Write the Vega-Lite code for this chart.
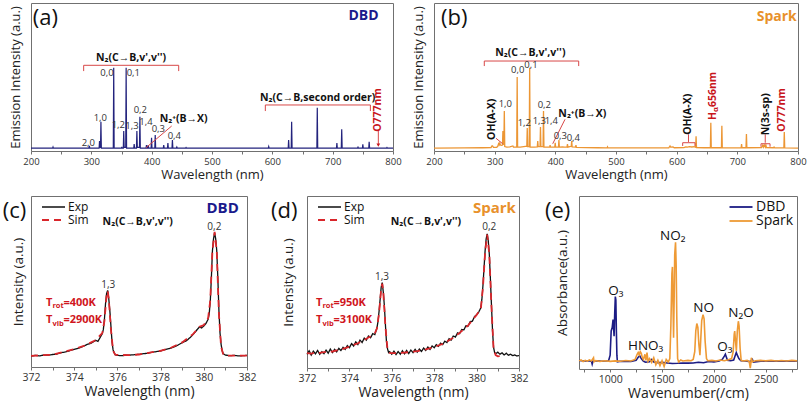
{
"$schema": "https://vega.github.io/schema/vega-lite/v6.json",
"background": "white",
"padding": {"left": 2, "top": 2, "right": 5, "bottom": 0},
"config": {
 "font": "Open Sans",
 "view": {"stroke": "#707070", "strokeWidth": 1},
 "axis": {"grid": false, "domain": false, "labelColor": "#333333", "titleColor": "#222222", "titleFontWeight": "normal", "tickColor": "#707070", "tickSize": 3, "labelFlush": false, "labelOverlap": false},
 "text": {"font": "Open Sans"}
},
"bounds": "flush",
"spacing": 193,
"resolve": {"scale": {"color": "independent", "strokeDash": "independent", "strokeWidth": "independent"}, "legend": {"color": "independent", "strokeDash": "independent"}},
"vconcat": [
{
"bounds": "flush",
"spacing": 41,
"hconcat": [
{
 "width": 362, "height": 148,
 "encoding": {
  "x": {"field": "w", "type": "quantitative", "scale": {"domain": [200, 800], "nice": false, "zero": false},
        "axis": {"title": "Wavelength (nm)", "values": [200,250,300,350,400,450,500,550,600,650,700,750,800], "labelExpr": "datum.value % 100 === 0 ? datum.label : ''", "labelFontSize": 9.5, "titleFontSize": 13, "labelPadding": 2, "titlePadding": 3}},
  "y": {"field": "i", "type": "quantitative", "scale": {"domain": [0, 100], "nice": false, "zero": false},
        "axis": {"title": "Emission Intensity (a.u.)", "labels": false, "ticks": false, "titleFontSize": 13, "titlePadding": 9}}
 },
 "layer": [
  {"data": {"values": [
   {"w":200,"i":2},{"w":236,"i":2},{"w":236.5,"i":2.6},{"w":237,"i":2},
   {"w":296,"i":2},{"w":296.7,"i":3.4},{"w":297.4,"i":2},
   {"w":312.9,"i":2},{"w":313.6,"i":6.8},{"w":314.3,"i":2.5},{"w":315.2,"i":2.5},{"w":315.9,"i":19.8},{"w":316.6,"i":2},
   {"w":336.4,"i":2},{"w":337.1,"i":56.3},{"w":337.8,"i":2},
   {"w":350,"i":2},{"w":350.5,"i":2.8},{"w":351,"i":2},
   {"w":353,"i":2},{"w":353.7,"i":13.5},{"w":354.4,"i":2.5},
   {"w":357,"i":2.5},{"w":357.7,"i":56.3},{"w":358.4,"i":2},
   {"w":370.3,"i":2},{"w":371,"i":4.7},{"w":371.7,"i":2},
   {"w":374.8,"i":2},{"w":375.5,"i":13.5},{"w":376.2,"i":2.5},
   {"w":379.8,"i":2.5},{"w":380.5,"i":23.2},{"w":381.2,"i":2},
   {"w":390.7,"i":2},{"w":391.4,"i":4},{"w":392.1,"i":2},
   {"w":393.6,"i":2},{"w":394.3,"i":4},{"w":395,"i":2},
   {"w":399.1,"i":2},{"w":399.8,"i":9},{"w":400.5,"i":2},
   {"w":405.2,"i":2},{"w":405.9,"i":10.8},{"w":406.6,"i":2},
   {"w":419.3,"i":2},{"w":420,"i":4},{"w":420.7,"i":2},
   {"w":426.2,"i":2},{"w":426.9,"i":5.4},{"w":427.6,"i":2},
   {"w":433.7,"i":2},{"w":434.4,"i":7.4},{"w":435.1,"i":2},
   {"w":441,"i":2},{"w":441.7,"i":2.7},{"w":442.4,"i":2},
   {"w":456.3,"i":2},{"w":457,"i":2.4},{"w":457.7,"i":2},
   {"w":593.3,"i":2},{"w":594,"i":3},{"w":594.7,"i":2},
   {"w":626.3,"i":2},{"w":627,"i":7.4},{"w":627.7,"i":2},
   {"w":631.3,"i":2},{"w":632,"i":19.8},{"w":632.7,"i":2},
   {"w":673.8,"i":2},{"w":674.5,"i":29.3},{"w":675.2,"i":2},
   {"w":706.3,"i":2},{"w":707,"i":5.4},{"w":707.7,"i":2},
   {"w":714.3,"i":2},{"w":715,"i":14.7},{"w":715.7,"i":2},
   {"w":741.3,"i":2},{"w":742,"i":2.6},{"w":742.7,"i":2},
   {"w":749.3,"i":2},{"w":750,"i":4.5},{"w":750.7,"i":2},
   {"w":759.8,"i":2},{"w":760.5,"i":6.3},{"w":761.2,"i":2},
   {"w":789.3,"i":2},{"w":790,"i":2.4},{"w":790.7,"i":2},
   {"w":800,"i":2}]},
   "mark": {"type": "line", "color": "#23237d", "strokeWidth": 1.2}},
  {"data": {"values": [
   {"w":287.3,"i":57.9,"w2":444.8,"i2":57.9},{"w":287.3,"i":57.9,"w2":287.3,"i2":54},{"w":444.8,"i":57.9,"w2":444.8,"i2":54},
   {"w":588.4,"i":31.1,"w2":762.5,"i2":31.1},{"w":588.4,"i":31.1,"w2":588.4,"i2":27},{"w":762.5,"i":31.1,"w2":762.5,"i2":27},
   {"w":433.2,"i":16.9,"w2":390.6,"i2":2.2},
   {"w":775.7,"i":13.5,"w2":775.7,"i2":4}]},
   "mark": {"type": "rule", "color": "#d84848", "strokeWidth": 1},
   "encoding": {"x2": {"field": "w2"}, "y2": {"field": "i2"}}},
  {"data": {"values": [{"w":775.7,"i":4}]},
   "mark": {"type": "point", "shape": "triangle-down", "filled": true, "color": "#c8161d", "size": 14, "opacity": 1}},
  {"data": {"values": [
   {"w":295,"i":5.6,"t":"2,0"},{"w":314.9,"i":22.5,"t":"1,0"},{"w":326,"i":52.9,"t":"0,0"},{"w":369.6,"i":52.9,"t":"0,1"},
   {"w":344.7,"i":17.6,"t":"1,2"},{"w":367.4,"i":16.9,"t":"1,3"},{"w":381.2,"i":27.7,"t":"0,2"},{"w":390.6,"i":19.8,"t":"1,4"},
   {"w":411,"i":14.7,"t":"0,3"},{"w":437.5,"i":10.1,"t":"0,4"}]},
   "mark": {"type": "text", "fontSize": 9.5, "color": "#333333", "baseline": "middle"},
   "encoding": {"text": {"field": "t"}}},
  {"data": {"values": [
   {"w":365.8,"i":62.6,"t":"N₂(C→B,v',v'')"},{"w":453.1,"i":21.4,"t":"N₂⁺(B→X)"},{"w":675.2,"i":36,"t":"N₂(C→B,second order)"}]},
   "mark": {"type": "text", "fontSize": 10.5, "fontWeight": "bold", "color": "#111111", "baseline": "middle"},
   "encoding": {"text": {"field": "t"}}},
  {"data": {"values": [{"w":202.8,"i":90,"t":"(a)"}]},
   "mark": {"type": "text", "fontSize": 22, "color": "#111111", "align": "left", "baseline": "middle"},
   "encoding": {"text": {"field": "t"}}},
  {"data": {"values": [{"w":751.1,"i":91.2,"t":"DBD"}]},
   "mark": {"type": "text", "fontSize": 14, "fontWeight": "bold", "color": "#1a1a8c", "baseline": "middle"},
   "encoding": {"text": {"field": "t"}}},
  {"data": {"values": [{"w":775.7,"i":27.7,"t":"O777nm"}]},
   "mark": {"type": "text", "fontSize": 10.5, "fontWeight": "bold", "color": "#c8161d", "angle": 270, "baseline": "middle"},
   "encoding": {"text": {"field": "t"}}}
 ]
},
{
 "width": 364, "height": 148,
 "encoding": {
  "x": {"field": "w", "type": "quantitative", "scale": {"domain": [200, 800], "nice": false, "zero": false},
        "axis": {"title": "Wavelength (nm)", "values": [200,250,300,350,400,450,500,550,600,650,700,750,800], "labelExpr": "datum.value % 100 === 0 ? datum.label : ''", "labelFontSize": 9.5, "titleFontSize": 13, "labelPadding": 2, "titlePadding": 3}},
  "y": {"field": "i", "type": "quantitative", "scale": {"domain": [0, 100], "nice": false, "zero": false},
        "axis": {"title": "Emission Intensity (a.u.)", "labels": false, "ticks": false, "titleFontSize": 13, "titlePadding": 9}}
 },
 "layer": [
  {"data": {"values": [
   {"w":200,"i":2},{"w":250,"i":2.1},{"w":280,"i":2.2},
   {"w":294,"i":2.3},{"w":295.5,"i":3.4},{"w":296.5,"i":3.4},{"w":298,"i":2.4},
   {"w":303,"i":2.5},{"w":305,"i":3},{"w":306.5,"i":5},{"w":307.5,"i":4.2},{"w":308.5,"i":5.4},{"w":309.5,"i":4},{"w":311,"i":3.8},
   {"w":312.9,"i":4},{"w":313.6,"i":13.5},{"w":314.3,"i":4.5},{"w":315.2,"i":4.5},{"w":315.9,"i":27},{"w":316.6,"i":3},
   {"w":320,"i":2.6},{"w":325,"i":2.8},{"w":330,"i":3.4},{"w":331,"i":2.6},
   {"w":336.4,"i":2.6},{"w":337.1,"i":50},{"w":337.8,"i":2.6},
   {"w":342,"i":2.6},{"w":348,"i":3},
   {"w":353,"i":3.2},{"w":353.7,"i":15.5},{"w":354.4,"i":3},
   {"w":357,"i":3},{"w":357.7,"i":56.3},{"w":358.4,"i":2.6},
   {"w":365,"i":2.6},
   {"w":370.3,"i":2.8},{"w":371,"i":6.8},{"w":371.7,"i":3},
   {"w":374.8,"i":3},{"w":375.5,"i":16.2},{"w":376.2,"i":3},
   {"w":379.8,"i":3},{"w":380.5,"i":27},{"w":381.2,"i":2.6},
   {"w":387,"i":2.6},
   {"w":390.7,"i":2.6},{"w":391.4,"i":4},{"w":392.1,"i":2.6},
   {"w":399.1,"i":2.6},{"w":399.8,"i":5.6},{"w":400.5,"i":2.6},
   {"w":405.2,"i":2.6},{"w":405.9,"i":7.4},{"w":406.6,"i":2.6},
   {"w":412,"i":2.8},{"w":415,"i":2.6},
   {"w":419.3,"i":2.6},{"w":420,"i":4.7},{"w":420.7,"i":2.6},
   {"w":424,"i":3},{"w":426.2,"i":3.2},{"w":427,"i":6.8},{"w":427.7,"i":2.8},
   {"w":433.3,"i":2.6},{"w":434,"i":4},{"w":434.7,"i":2.4},
   {"w":450,"i":2.3},{"w":470,"i":2.2},
   {"w":485.3,"i":2.1},{"w":486,"i":2.8},{"w":486.7,"i":2.1},
   {"w":520,"i":2.1},{"w":560,"i":2.1},
   {"w":587,"i":2.2},{"w":589,"i":3.4},{"w":590,"i":2.6},{"w":594,"i":2.7},{"w":596,"i":2.2},
   {"w":612,"i":2.3},{"w":615,"i":2.8},{"w":618,"i":2.6},{"w":621,"i":2.9},{"w":625,"i":2.7},{"w":629,"i":2.9},
   {"w":631.3,"i":2.5},{"w":632,"i":10},{"w":632.7,"i":2.3},
   {"w":645,"i":2.2},
   {"w":655.6,"i":2.2},{"w":656.3,"i":19},{"w":657,"i":2.2},
   {"w":673.8,"i":2.3},{"w":674.5,"i":17},{"w":675.2,"i":2.2},
   {"w":690,"i":2.1},
   {"w":706.3,"i":2.2},{"w":707,"i":4.7},{"w":707.7,"i":2.2},
   {"w":714.3,"i":2.3},{"w":715,"i":11.5},{"w":715.7,"i":2.2},
   {"w":740,"i":2.3},{"w":742,"i":4},{"w":743,"i":2.6},{"w":744.5,"i":4},{"w":746,"i":2.6},{"w":747,"i":4},{"w":748,"i":2.3},
   {"w":759.5,"i":2.2},{"w":760.5,"i":2.7},{"w":761.5,"i":2.1},
   {"w":776.7,"i":2.1},{"w":777.4,"i":12.8},{"w":778.1,"i":2.1},
   {"w":800,"i":2}]},
   "mark": {"type": "line", "color": "#ec9634", "strokeWidth": 1.3}},
  {"data": {"values": [
   {"w":282.9,"i":60.8,"w2":438.5,"i2":60.8},{"w":282.9,"i":60.8,"w2":282.9,"i2":57.4},{"w":438.5,"i":60.8,"w2":438.5,"i2":57.4},
   {"w":302.2,"i":8.6,"w2":313.2,"i2":4.9},
   {"w":416,"i":21.4,"w2":395.7,"i2":4.9},
   {"w":609.9,"i":5.6,"w2":630.2,"i2":5.6},{"w":609.9,"i":5.6,"w2":609.9,"i2":3.4},{"w":630.2,"i":5.6,"w2":630.2,"i2":3.4},
   {"w":619.5,"i":11.3,"w2":619.5,"i2":6.1},
   {"w":739,"i":4.9,"w2":753.9,"i2":4.9},{"w":739,"i":4.9,"w2":739,"i2":2.9},{"w":753.9,"i":4.9,"w2":753.9,"i2":2.9},
   {"w":746,"i":11.3,"w2":746,"i2":5.6}]},
   "mark": {"type": "rule", "color": "#d84848", "strokeWidth": 1},
   "encoding": {"x2": {"field": "w2"}, "y2": {"field": "i2"}}},
  {"data": {"values": [
   {"w":317.6,"i":32,"t":"1,0"},{"w":338,"i":54.7,"t":"0,0"},{"w":359.9,"i":57.9,"t":"0,1"},{"w":348.9,"i":18.9,"t":"1,2"},
   {"w":373.6,"i":20.3,"t":"1,3"},{"w":393.4,"i":20.3,"t":"1,4"},{"w":381.8,"i":31.1,"t":"0,2"},{"w":408.2,"i":10.1,"t":"0,3"},
   {"w":429.6,"i":9,"t":"0,4"}]},
   "mark": {"type": "text", "fontSize": 9.5, "color": "#333333", "baseline": "middle"},
   "encoding": {"text": {"field": "t"}}},
  {"data": {"values": [
   {"w":358.8,"i":66.4,"t":"N₂(C→B,v',v'')"},{"w":444.5,"i":24.8,"t":"N₂⁺(B→X)"}]},
   "mark": {"type": "text", "fontSize": 10.5, "fontWeight": "bold", "color": "#111111", "baseline": "middle"},
   "encoding": {"text": {"field": "t"}}},
  {"data": {"values": [
   {"w":295.1,"i":21.4,"t":"OH(A-X)"},{"w":619.2,"i":24.8,"t":"OH(A-X)"},{"w":747.2,"i":24.8,"t":"N(3s-sp)"}]},
   "mark": {"type": "text", "fontSize": 10.5, "fontWeight": "bold", "color": "#111111", "angle": 270, "baseline": "middle"},
   "encoding": {"text": {"field": "t"}}},
  {"data": {"values": [{"w":773.1,"i":27.7,"t":"O777nm"}]},
   "mark": {"type": "text", "fontSize": 10.5, "fontWeight": "bold", "color": "#c8161d", "angle": 270, "baseline": "middle"},
   "encoding": {"text": {"field": "t"}}},
  {"data": {"values": [{"w":659.3,"i":20.9,"t":"H"}]},
   "mark": {"type": "text", "fontSize": 10.5, "fontWeight": "bold", "color": "#c8161d", "angle": 270, "align": "left", "baseline": "middle"},
   "encoding": {"text": {"field": "t"}}},
  {"data": {"values": [{"w":659.3,"i":20.9,"t":"α"}]},
   "mark": {"type": "text", "fontSize": 7.5, "fontWeight": "bold", "color": "#c8161d", "angle": 270, "align": "left", "baseline": "middle", "dx": 8, "dy": 3},
   "encoding": {"text": {"field": "t"}}},
  {"data": {"values": [{"w":659.3,"i":20.9,"t":"656nm"}]},
   "mark": {"type": "text", "fontSize": 10.5, "fontWeight": "bold", "color": "#c8161d", "angle": 270, "align": "left", "baseline": "middle", "dx": 13},
   "encoding": {"text": {"field": "t"}}},
  {"data": {"values": [{"w":211.5,"i":90,"t":"(b)"}]},
   "mark": {"type": "text", "fontSize": 22, "color": "#111111", "align": "left", "baseline": "middle"},
   "encoding": {"text": {"field": "t"}}},
  {"data": {"values": [{"w":765,"i":90.5,"t":"Spark"}]},
   "mark": {"type": "text", "fontSize": 14, "fontWeight": "bold", "color": "#e8912b", "baseline": "middle"},
   "encoding": {"text": {"field": "t"}}}
 ]
}
]
},
{
"bounds": "flush",
"spacing": 60,
"resolve": {"scale": {"color": "independent", "strokeDash": "independent", "strokeWidth": "independent"}, "legend": {"color": "independent", "strokeDash": "independent"}},
"hconcat": [
{
 "width": 216, "height": 171,
 "encoding": {
  "x": {"field": "w", "type": "quantitative", "scale": {"domain": [372, 382], "nice": false, "zero": false},
        "axis": {"title": "Wavelength (nm)", "values": [372,373,374,375,376,377,378,379,380,381,382], "labelExpr": "datum.value % 2 === 0 ? datum.label : ''", "labelFontSize": 10.5, "titleFontSize": 14, "labelPadding": 2, "titlePadding": 2}},
  "y": {"field": "i", "type": "quantitative", "scale": {"domain": [0, 100], "nice": false, "zero": false},
        "axis": {"title": "Intensity (a.u.)", "labels": false, "ticks": false, "titleFontSize": 13.5, "titlePadding": 6}}
 },
 "layer": [
  {"data": {"values": [
   {"w":372.0,"i":6.4,"s":"Exp"},{"w":372.2,"i":6.8,"s":"Exp"},{"w":372.4,"i":6.5,"s":"Exp"},{"w":372.6,"i":7.0,"s":"Exp"},{"w":372.8,"i":6.9,"s":"Exp"},
   {"w":373.0,"i":7.3,"s":"Exp"},{"w":373.2,"i":7.6,"s":"Exp"},{"w":373.4,"i":8.4,"s":"Exp"},{"w":373.6,"i":8.8,"s":"Exp"},{"w":373.8,"i":9.6,"s":"Exp"},
   {"w":374.0,"i":10.3,"s":"Exp"},{"w":374.2,"i":11.0,"s":"Exp"},{"w":374.4,"i":12.0,"s":"Exp"},{"w":374.6,"i":13.2,"s":"Exp"},{"w":374.8,"i":14.0,"s":"Exp"},
   {"w":375.0,"i":15.6,"s":"Exp"},{"w":375.1,"i":15.0,"s":"Exp"},{"w":375.2,"i":17.2,"s":"Exp"},{"w":375.3,"i":19.5,"s":"Exp"},{"w":375.35,"i":22,"s":"Exp"},
   {"w":375.4,"i":28,"s":"Exp"},{"w":375.45,"i":37,"s":"Exp"},{"w":375.5,"i":43,"s":"Exp"},{"w":375.55,"i":44.8,"s":"Exp"},{"w":375.6,"i":40,"s":"Exp"},
   {"w":375.65,"i":33,"s":"Exp"},{"w":375.7,"i":24,"s":"Exp"},{"w":375.75,"i":15,"s":"Exp"},{"w":375.8,"i":10,"s":"Exp"},{"w":375.85,"i":8.4,"s":"Exp"},
   {"w":375.9,"i":7.2,"s":"Exp"},{"w":376.0,"i":6.8,"s":"Exp"},{"w":376.2,"i":6.6,"s":"Exp"},{"w":376.4,"i":6.9,"s":"Exp"},{"w":376.6,"i":7.0,"s":"Exp"},
   {"w":376.8,"i":7.2,"s":"Exp"},{"w":377.0,"i":7.4,"s":"Exp"},{"w":377.2,"i":7.8,"s":"Exp"},{"w":377.4,"i":8.0,"s":"Exp"},{"w":377.6,"i":8.6,"s":"Exp"},
   {"w":377.8,"i":9.0,"s":"Exp"},{"w":378.0,"i":9.4,"s":"Exp"},{"w":378.2,"i":10.2,"s":"Exp"},{"w":378.4,"i":10.8,"s":"Exp"},{"w":378.6,"i":11.6,"s":"Exp"},
   {"w":378.8,"i":12.8,"s":"Exp"},{"w":379.0,"i":14.2,"s":"Exp"},{"w":379.2,"i":15.4,"s":"Exp"},{"w":379.4,"i":17.6,"s":"Exp"},{"w":379.5,"i":19.0,"s":"Exp"},
   {"w":379.6,"i":20.4,"s":"Exp"},{"w":379.7,"i":22.0,"s":"Exp"},{"w":379.8,"i":23.4,"s":"Exp"},{"w":379.9,"i":22.8,"s":"Exp"},{"w":380.0,"i":24.0,"s":"Exp"},
   {"w":380.1,"i":25.5,"s":"Exp"},{"w":380.2,"i":27.9,"s":"Exp"},{"w":380.25,"i":31,"s":"Exp"},{"w":380.3,"i":38.6,"s":"Exp"},{"w":380.35,"i":52,"s":"Exp"},
   {"w":380.4,"i":68,"s":"Exp"},{"w":380.45,"i":75,"s":"Exp"},{"w":380.5,"i":78.5,"s":"Exp"},{"w":380.55,"i":75,"s":"Exp"},{"w":380.6,"i":68,"s":"Exp"},
   {"w":380.65,"i":52,"s":"Exp"},{"w":380.7,"i":33,"s":"Exp"},{"w":380.75,"i":20,"s":"Exp"},{"w":380.8,"i":13.3,"s":"Exp"},{"w":380.85,"i":9.5,"s":"Exp"},
   {"w":380.9,"i":7.8,"s":"Exp"},{"w":381.0,"i":7.0,"s":"Exp"},{"w":381.2,"i":6.6,"s":"Exp"},{"w":381.4,"i":6.8,"s":"Exp"},{"w":381.6,"i":6.5,"s":"Exp"},
   {"w":381.8,"i":6.6,"s":"Exp"},{"w":382.0,"i":6.8,"s":"Exp"},
   {"w":372.0,"i":6.5,"s":"Sim"},{"w":373.0,"i":7.2,"s":"Sim"},{"w":374.0,"i":10.5,"s":"Sim"},{"w":374.5,"i":12.6,"s":"Sim"},{"w":375.0,"i":15.8,"s":"Sim"},
   {"w":375.3,"i":19.8,"s":"Sim"},{"w":375.4,"i":27,"s":"Sim"},{"w":375.5,"i":42,"s":"Sim"},{"w":375.55,"i":44.5,"s":"Sim"},{"w":375.6,"i":40,"s":"Sim"},
   {"w":375.7,"i":22,"s":"Sim"},{"w":375.8,"i":9.5,"s":"Sim"},{"w":375.9,"i":7.2,"s":"Sim"},{"w":376.5,"i":6.9,"s":"Sim"},{"w":377.0,"i":7.3,"s":"Sim"},
   {"w":378.0,"i":9.5,"s":"Sim"},{"w":378.5,"i":11.4,"s":"Sim"},{"w":379.0,"i":14.4,"s":"Sim"},{"w":379.5,"i":19.2,"s":"Sim"},{"w":379.8,"i":23.5,"s":"Sim"},
   {"w":380.0,"i":24.5,"s":"Sim"},{"w":380.2,"i":28.5,"s":"Sim"},{"w":380.3,"i":39,"s":"Sim"},{"w":380.4,"i":68,"s":"Sim"},{"w":380.5,"i":79,"s":"Sim"},
   {"w":380.6,"i":68,"s":"Sim"},{"w":380.7,"i":31,"s":"Sim"},{"w":380.8,"i":12,"s":"Sim"},{"w":380.9,"i":7.2,"s":"Sim"},{"w":381.0,"i":6.6,"s":"Sim"},
   {"w":382.0,"i":6.6,"s":"Sim"}]},
   "mark": {"type": "line"},
   "encoding": {
    "color": {"field": "s", "type": "nominal", "scale": {"domain": ["Exp", "Sim"], "range": ["#111111", "#d9262b"]},
              "legend": {"title": null, "orient": "none", "legendX": 16.5, "legendY": 5, "symbolType": "M-2.3,0L2.3,0", "symbolSize": 100, "symbolStrokeWidth": 1.6, "labelFontSize": 12, "labelOffset": 8.5, "rowPadding": 1, "labelColor": "#111111"}},
    "strokeDash": {"field": "s", "type": "nominal", "scale": {"domain": ["Exp", "Sim"], "range": [[1, 0], [7, 5]]},
              "legend": {"title": null, "orient": "none", "legendX": 16.5, "legendY": 5, "symbolType": "M-2.3,0L2.3,0", "symbolSize": 100, "symbolStrokeWidth": 1.6, "labelFontSize": 12, "labelOffset": 8.5, "rowPadding": 1, "labelColor": "#111111"}},
    "strokeWidth": {"field": "s", "type": "nominal", "scale": {"domain": ["Exp", "Sim"], "range": [1.3, 1.8]}, "legend": null}
   }},
  {"data": {"values": [{"w":376.94,"i":85,"t":"N₂(C→B,v',v'')"}]},
   "mark": {"type": "text", "fontSize": 10.5, "fontWeight": "bold", "color": "#111111", "baseline": "middle"},
   "encoding": {"text": {"field": "t"}}},
  {"data": {"values": [{"w":375.58,"i":48,"t":"1,3"},{"w":380.49,"i":81.9,"t":"0,2"}]},
   "mark": {"type": "text", "fontSize": 10, "color": "#333333", "baseline": "middle"},
   "encoding": {"text": {"field": "t"}}},
  {"data": {"values": [{"w":380.87,"i":92.8,"t":"DBD"}]},
   "mark": {"type": "text", "fontSize": 15, "fontWeight": "bold", "color": "#1a1a8c", "baseline": "middle"},
   "encoding": {"text": {"field": "t"}}},
  {"data": {"values": [{"w":370.69,"i":91.2,"t":"(c)"}]},
   "mark": {"type": "text", "fontSize": 22, "color": "#111111", "align": "left", "baseline": "middle"},
   "encoding": {"text": {"field": "t"}}},
  {"data": {"values": [{"w":372.69,"i":37.6,"t":"T"},{"w":372.69,"i":27.3,"t":"T"}]},
   "mark": {"type": "text", "fontSize": 11, "fontWeight": "bold", "color": "#d0161d", "align": "left", "baseline": "middle"},
   "encoding": {"text": {"field": "t"}}},
  {"data": {"values": [{"w":372.69,"i":37.6,"t":"rot"},{"w":372.69,"i":27.3,"t":"vib"}]},
   "mark": {"type": "text", "fontSize": 7.5, "fontWeight": "bold", "color": "#d0161d", "align": "left", "baseline": "middle", "dx": 6.5, "dy": 3.5},
   "encoding": {"text": {"field": "t"}}},
  {"data": {"values": [{"w":372.69,"i":37.6,"t":"=400K"},{"w":372.69,"i":27.3,"t":"=2900K"}]},
   "mark": {"type": "text", "fontSize": 11, "fontWeight": "bold", "color": "#d0161d", "align": "left", "baseline": "middle", "dx": 17.5},
   "encoding": {"text": {"field": "t"}}}
 ]
},
{
 "width": 212, "height": 172,
 "encoding": {
  "x": {"field": "w", "type": "quantitative", "scale": {"domain": [372, 382], "nice": false, "zero": false},
        "axis": {"title": "Wavelength (nm)", "values": [372,373,374,375,376,377,378,379,380,381,382], "labelExpr": "datum.value % 2 === 0 ? datum.label : ''", "labelFontSize": 10.5, "titleFontSize": 14, "labelPadding": 2, "titlePadding": 2}},
  "y": {"field": "i", "type": "quantitative", "scale": {"domain": [0, 100], "nice": false, "zero": false},
        "axis": {"title": "Intensity (a.u.)", "labels": false, "ticks": false, "titleFontSize": 13.5, "titlePadding": 12}}
 },
 "layer": [
  {"data": {"values": [
   {"w":372.0,"i":8.0,"s":"Exp"},{"w":372.1,"i":10.0,"s":"Exp"},{"w":372.2,"i":7.5,"s":"Exp"},{"w":372.3,"i":9.8,"s":"Exp"},{"w":372.4,"i":8.2,"s":"Exp"},
   {"w":372.5,"i":10.2,"s":"Exp"},{"w":372.6,"i":8.0,"s":"Exp"},{"w":372.7,"i":9.5,"s":"Exp"},{"w":372.8,"i":8.3,"s":"Exp"},{"w":372.9,"i":10.4,"s":"Exp"},
   {"w":373.0,"i":8.6,"s":"Exp"},{"w":373.1,"i":11.0,"s":"Exp"},{"w":373.2,"i":9.0,"s":"Exp"},{"w":373.3,"i":10.8,"s":"Exp"},{"w":373.4,"i":9.4,"s":"Exp"},
   {"w":373.5,"i":11.4,"s":"Exp"},{"w":373.6,"i":10.2,"s":"Exp"},{"w":373.7,"i":12.0,"s":"Exp"},{"w":373.8,"i":10.8,"s":"Exp"},{"w":373.9,"i":13.0,"s":"Exp"},
   {"w":374.0,"i":11.8,"s":"Exp"},{"w":374.1,"i":14.2,"s":"Exp"},{"w":374.2,"i":12.8,"s":"Exp"},{"w":374.3,"i":15.2,"s":"Exp"},{"w":374.4,"i":13.6,"s":"Exp"},
   {"w":374.5,"i":16.2,"s":"Exp"},{"w":374.6,"i":14.8,"s":"Exp"},{"w":374.7,"i":17.4,"s":"Exp"},{"w":374.8,"i":16.2,"s":"Exp"},{"w":374.9,"i":18.6,"s":"Exp"},
   {"w":375.0,"i":17.6,"s":"Exp"},{"w":375.1,"i":20.0,"s":"Exp"},{"w":375.2,"i":19.4,"s":"Exp"},{"w":375.3,"i":23.4,"s":"Exp"},{"w":375.35,"i":27,"s":"Exp"},
   {"w":375.4,"i":33,"s":"Exp"},{"w":375.45,"i":40,"s":"Exp"},{"w":375.5,"i":47,"s":"Exp"},{"w":375.55,"i":49.6,"s":"Exp"},{"w":375.6,"i":44,"s":"Exp"},
   {"w":375.65,"i":36,"s":"Exp"},{"w":375.7,"i":25,"s":"Exp"},{"w":375.75,"i":15,"s":"Exp"},{"w":375.8,"i":11,"s":"Exp"},{"w":375.85,"i":9.0,"s":"Exp"},
   {"w":375.9,"i":9.5,"s":"Exp"},{"w":376.0,"i":8.0,"s":"Exp"},{"w":376.1,"i":9.8,"s":"Exp"},{"w":376.2,"i":7.8,"s":"Exp"},{"w":376.3,"i":9.6,"s":"Exp"},
   {"w":376.4,"i":8.0,"s":"Exp"},{"w":376.5,"i":10.0,"s":"Exp"},{"w":376.6,"i":8.2,"s":"Exp"},{"w":376.7,"i":10.2,"s":"Exp"},{"w":376.8,"i":8.4,"s":"Exp"},
   {"w":376.9,"i":10.4,"s":"Exp"},{"w":377.0,"i":8.9,"s":"Exp"},{"w":377.1,"i":10.8,"s":"Exp"},{"w":377.2,"i":9.2,"s":"Exp"},{"w":377.3,"i":11.0,"s":"Exp"},
   {"w":377.4,"i":9.6,"s":"Exp"},{"w":377.5,"i":11.6,"s":"Exp"},{"w":377.6,"i":10.2,"s":"Exp"},{"w":377.7,"i":12.2,"s":"Exp"},{"w":377.8,"i":10.8,"s":"Exp"},
   {"w":377.9,"i":12.8,"s":"Exp"},{"w":378.0,"i":11.8,"s":"Exp"},{"w":378.1,"i":13.6,"s":"Exp"},{"w":378.2,"i":12.6,"s":"Exp"},{"w":378.3,"i":14.4,"s":"Exp"},
   {"w":378.4,"i":13.6,"s":"Exp"},{"w":378.5,"i":15.6,"s":"Exp"},{"w":378.6,"i":14.8,"s":"Exp"},{"w":378.7,"i":17.0,"s":"Exp"},{"w":378.8,"i":16.2,"s":"Exp"},
   {"w":378.9,"i":18.6,"s":"Exp"},{"w":379.0,"i":18.0,"s":"Exp"},{"w":379.1,"i":20.4,"s":"Exp"},{"w":379.2,"i":20.0,"s":"Exp"},{"w":379.3,"i":22.4,"s":"Exp"},
   {"w":379.4,"i":22.2,"s":"Exp"},{"w":379.5,"i":24.6,"s":"Exp"},{"w":379.6,"i":24.4,"s":"Exp"},{"w":379.7,"i":27.0,"s":"Exp"},{"w":379.8,"i":27.2,"s":"Exp"},
   {"w":379.9,"i":29.8,"s":"Exp"},{"w":380.0,"i":31.0,"s":"Exp"},{"w":380.1,"i":32.5,"s":"Exp"},{"w":380.2,"i":35,"s":"Exp"},{"w":380.25,"i":40,"s":"Exp"},
   {"w":380.3,"i":48,"s":"Exp"},{"w":380.35,"i":58,"s":"Exp"},{"w":380.4,"i":68,"s":"Exp"},{"w":380.45,"i":75,"s":"Exp"},{"w":380.5,"i":78,"s":"Exp"},
   {"w":380.55,"i":74,"s":"Exp"},{"w":380.6,"i":66,"s":"Exp"},{"w":380.65,"i":52,"s":"Exp"},{"w":380.7,"i":37,"s":"Exp"},{"w":380.75,"i":22,"s":"Exp"},
   {"w":380.8,"i":12,"s":"Exp"},{"w":380.85,"i":9,"s":"Exp"},{"w":380.9,"i":8.3,"s":"Exp"},{"w":381.0,"i":9.2,"s":"Exp"},{"w":381.1,"i":8.0,"s":"Exp"},
   {"w":381.2,"i":8.8,"s":"Exp"},{"w":381.3,"i":7.6,"s":"Exp"},{"w":381.4,"i":8.6,"s":"Exp"},{"w":381.5,"i":7.4,"s":"Exp"},{"w":381.6,"i":8.0,"s":"Exp"},
   {"w":381.7,"i":7.2,"s":"Exp"},{"w":381.8,"i":7.6,"s":"Exp"},{"w":381.9,"i":7.0,"s":"Exp"},{"w":382.0,"i":7.2,"s":"Exp"},
   {"w":372.0,"i":8.6,"s":"Sim"},{"w":372.2,"i":8.4,"s":"Sim"},{"w":372.4,"i":9.0,"s":"Sim"},{"w":372.6,"i":8.8,"s":"Sim"},{"w":372.8,"i":9.2,"s":"Sim"},
   {"w":373.0,"i":9.4,"s":"Sim"},{"w":373.2,"i":9.6,"s":"Sim"},{"w":373.4,"i":10.2,"s":"Sim"},{"w":373.6,"i":10.6,"s":"Sim"},{"w":373.8,"i":11.6,"s":"Sim"},
   {"w":374.0,"i":12.4,"s":"Sim"},{"w":374.2,"i":13.4,"s":"Sim"},{"w":374.4,"i":14.4,"s":"Sim"},{"w":374.6,"i":15.6,"s":"Sim"},{"w":374.8,"i":17.0,"s":"Sim"},
   {"w":375.0,"i":18.4,"s":"Sim"},{"w":375.2,"i":20.2,"s":"Sim"},{"w":375.3,"i":23,"s":"Sim"},{"w":375.4,"i":32,"s":"Sim"},{"w":375.5,"i":46,"s":"Sim"},
   {"w":375.55,"i":49,"s":"Sim"},{"w":375.6,"i":44,"s":"Sim"},{"w":375.7,"i":24,"s":"Sim"},{"w":375.8,"i":10.5,"s":"Sim"},{"w":375.9,"i":8.8,"s":"Sim"},
   {"w":376.0,"i":8.6,"s":"Sim"},{"w":376.4,"i":8.8,"s":"Sim"},{"w":376.8,"i":9.2,"s":"Sim"},{"w":377.2,"i":9.8,"s":"Sim"},{"w":377.6,"i":10.8,"s":"Sim"},
   {"w":378.0,"i":12.2,"s":"Sim"},{"w":378.4,"i":14.0,"s":"Sim"},{"w":378.8,"i":16.8,"s":"Sim"},{"w":379.2,"i":20.4,"s":"Sim"},{"w":379.6,"i":24.8,"s":"Sim"},
   {"w":380.0,"i":30.8,"s":"Sim"},{"w":380.2,"i":34.5,"s":"Sim"},{"w":380.3,"i":47,"s":"Sim"},{"w":380.4,"i":67,"s":"Sim"},{"w":380.5,"i":77.5,"s":"Sim"},
   {"w":380.6,"i":66,"s":"Sim"},{"w":380.7,"i":36,"s":"Sim"},{"w":380.8,"i":11,"s":"Sim"},{"w":380.9,"i":7.5,"s":"Sim"},{"w":381.0,"i":6.8,"s":"Sim"},
   {"w":381.2,"i":7.0,"s":"Sim"}]},
   "mark": {"type": "line"},
   "encoding": {
    "color": {"field": "s", "type": "nominal", "scale": {"domain": ["Exp", "Sim"], "range": ["#111111", "#d9262b"]},
              "legend": {"title": null, "orient": "none", "legendX": 16.5, "legendY": 5, "symbolType": "M-2.3,0L2.3,0", "symbolSize": 100, "symbolStrokeWidth": 1.6, "labelFontSize": 12, "labelOffset": 8.5, "rowPadding": 1, "labelColor": "#111111"}},
    "strokeDash": {"field": "s", "type": "nominal", "scale": {"domain": ["Exp", "Sim"], "range": [[1, 0], [7, 5]]},
              "legend": {"title": null, "orient": "none", "legendX": 16.5, "legendY": 5, "symbolType": "M-2.3,0L2.3,0", "symbolSize": 100, "symbolStrokeWidth": 1.6, "labelFontSize": 12, "labelOffset": 8.5, "rowPadding": 1, "labelColor": "#111111"}},
    "strokeWidth": {"field": "s", "type": "nominal", "scale": {"domain": ["Exp", "Sim"], "range": [1.3, 1.8]}, "legend": null}
   }},
  {"data": {"values": [{"w":377.61,"i":85,"t":"N₂(C→B,v',v'')"}]},
   "mark": {"type": "text", "fontSize": 10.5, "fontWeight": "bold", "color": "#111111", "baseline": "middle"},
   "encoding": {"text": {"field": "t"}}},
  {"data": {"values": [{"w":375.54,"i":52.9,"t":"1,3"},{"w":380.6,"i":82,"t":"0,2"}]},
   "mark": {"type": "text", "fontSize": 10, "color": "#333333", "baseline": "middle"},
   "encoding": {"text": {"field": "t"}}},
  {"data": {"values": [{"w":380.84,"i":92.8,"t":"Spark"}]},
   "mark": {"type": "text", "fontSize": 15, "fontWeight": "bold", "color": "#e8912b", "baseline": "middle"},
   "encoding": {"text": {"field": "t"}}},
  {"data": {"values": [{"w":370.3,"i":91.3,"t":"(d)"}]},
   "mark": {"type": "text", "fontSize": 22, "color": "#111111", "align": "left", "baseline": "middle"},
   "encoding": {"text": {"field": "t"}}},
  {"data": {"values": [{"w":372.42,"i":38,"t":"T"},{"w":372.42,"i":27.7,"t":"T"}]},
   "mark": {"type": "text", "fontSize": 11, "fontWeight": "bold", "color": "#d0161d", "align": "left", "baseline": "middle"},
   "encoding": {"text": {"field": "t"}}},
  {"data": {"values": [{"w":372.42,"i":38,"t":"rot"},{"w":372.42,"i":27.7,"t":"vib"}]},
   "mark": {"type": "text", "fontSize": 7.5, "fontWeight": "bold", "color": "#d0161d", "align": "left", "baseline": "middle", "dx": 6.5, "dy": 3.5},
   "encoding": {"text": {"field": "t"}}},
  {"data": {"values": [{"w":372.42,"i":38,"t":"=950K"},{"w":372.42,"i":27.7,"t":"=3100K"}]},
   "mark": {"type": "text", "fontSize": 11, "fontWeight": "bold", "color": "#d0161d", "align": "left", "baseline": "middle", "dx": 17.5},
   "encoding": {"text": {"field": "t"}}}
 ]
},
{
 "width": 218, "height": 173,
 "encoding": {
  "x": {"field": "w", "type": "quantitative", "scale": {"domain": [700, 2800], "nice": false, "zero": false},
        "axis": {"title": "Wavenumber(/cm)", "values": [750,1000,1250,1500,1750,2000,2250,2500,2750], "labelExpr": "datum.value % 500 === 0 ? format(datum.value, 'd') : ''", "labelFontSize": 10.5, "titleFontSize": 14, "labelPadding": 2, "titlePadding": 2}},
  "y": {"field": "i", "type": "quantitative", "scale": {"domain": [0, 100], "nice": false, "zero": false},
        "axis": {"title": "Absorbance(a.u.)", "labels": false, "ticks": false, "titleFontSize": 13.5, "titlePadding": 10}}
 },
 "layer": [
  {"data": {"values": [
   {"w":700,"i":4.9,"s":"DBD"},{"w":750,"i":4.6,"s":"DBD"},{"w":800,"i":4.8,"s":"DBD"},{"w":820,"i":4.4,"s":"DBD"},{"w":827,"i":2.8,"s":"DBD"},
   {"w":835,"i":4.6,"s":"DBD"},{"w":880,"i":4.8,"s":"DBD"},{"w":920,"i":4.5,"s":"DBD"},{"w":960,"i":4.6,"s":"DBD"},{"w":985,"i":4.8,"s":"DBD"},
   {"w":1000,"i":8,"s":"DBD"},{"w":1010,"i":22,"s":"DBD"},{"w":1020,"i":24,"s":"DBD"},{"w":1028,"i":28.6,"s":"DBD"},{"w":1033,"i":24,"s":"DBD"},
   {"w":1038,"i":19,"s":"DBD"},{"w":1044,"i":32,"s":"DBD"},{"w":1050,"i":41.9,"s":"DBD"},{"w":1055,"i":40,"s":"DBD"},{"w":1060,"i":22,"s":"DBD"},
   {"w":1065,"i":8,"s":"DBD"},{"w":1070,"i":4.2,"s":"DBD"},{"w":1090,"i":4.4,"s":"DBD"},{"w":1150,"i":4.3,"s":"DBD"},{"w":1200,"i":4.4,"s":"DBD"},
   {"w":1250,"i":5.0,"s":"DBD"},{"w":1270,"i":6.8,"s":"DBD"},{"w":1285,"i":7.6,"s":"DBD"},{"w":1300,"i":6.0,"s":"DBD"},{"w":1320,"i":4.6,"s":"DBD"},
   {"w":1340,"i":3.9,"s":"DBD"},{"w":1380,"i":4.2,"s":"DBD"},{"w":1400,"i":5.5,"s":"DBD"},{"w":1420,"i":4.1,"s":"DBD"},{"w":1460,"i":3.6,"s":"DBD"},
   {"w":1500,"i":3.8,"s":"DBD"},{"w":1550,"i":3.5,"s":"DBD"},{"w":1600,"i":3.2,"s":"DBD"},{"w":1650,"i":3.3,"s":"DBD"},{"w":1700,"i":3.5,"s":"DBD"},
   {"w":1750,"i":3.4,"s":"DBD"},{"w":1800,"i":3.5,"s":"DBD"},{"w":1850,"i":3.9,"s":"DBD"},{"w":1900,"i":3.6,"s":"DBD"},{"w":1950,"i":4.3,"s":"DBD"},
   {"w":2000,"i":4.1,"s":"DBD"},{"w":2050,"i":4.6,"s":"DBD"},{"w":2080,"i":5.5,"s":"DBD"},{"w":2100,"i":7.4,"s":"DBD"},{"w":2110,"i":8.5,"s":"DBD"},
   {"w":2120,"i":6.8,"s":"DBD"},{"w":2130,"i":5.0,"s":"DBD"},{"w":2160,"i":4.8,"s":"DBD"},{"w":2190,"i":5.2,"s":"DBD"},{"w":2200,"i":7,"s":"DBD"},
   {"w":2215,"i":9.5,"s":"DBD"},{"w":2225,"i":8,"s":"DBD"},{"w":2240,"i":6,"s":"DBD"},{"w":2260,"i":4.8,"s":"DBD"},{"w":2300,"i":4.6,"s":"DBD"},
   {"w":2350,"i":4.3,"s":"DBD"},{"w":2370,"i":5.5,"s":"DBD"},{"w":2380,"i":4.0,"s":"DBD"},{"w":2450,"i":4.5,"s":"DBD"},{"w":2550,"i":4.6,"s":"DBD"},
   {"w":2650,"i":4.5,"s":"DBD"},{"w":2750,"i":4.6,"s":"DBD"},{"w":2800,"i":4.5,"s":"DBD"},
   {"w":700,"i":4.7,"s":"Spark"},{"w":720,"i":5.2,"s":"Spark"},{"w":740,"i":4.3,"s":"Spark"},{"w":760,"i":5.0,"s":"Spark"},{"w":780,"i":4.5,"s":"Spark"},
   {"w":800,"i":5.3,"s":"Spark"},{"w":820,"i":4.6,"s":"Spark"},{"w":840,"i":6.5,"s":"Spark"},{"w":845,"i":4.2,"s":"Spark"},{"w":860,"i":4.9,"s":"Spark"},
   {"w":900,"i":4.4,"s":"Spark"},{"w":950,"i":4.8,"s":"Spark"},{"w":1000,"i":4.4,"s":"Spark"},{"w":1050,"i":4.7,"s":"Spark"},{"w":1100,"i":4.5,"s":"Spark"},
   {"w":1150,"i":4.9,"s":"Spark"},{"w":1200,"i":4.6,"s":"Spark"},{"w":1240,"i":5.5,"s":"Spark"},{"w":1260,"i":8.5,"s":"Spark"},{"w":1270,"i":9.5,"s":"Spark"},
   {"w":1280,"i":8.2,"s":"Spark"},{"w":1290,"i":10,"s":"Spark"},{"w":1300,"i":9.0,"s":"Spark"},{"w":1310,"i":6.5,"s":"Spark"},{"w":1320,"i":5.5,"s":"Spark"},
   {"w":1335,"i":8.5,"s":"Spark"},{"w":1345,"i":5.0,"s":"Spark"},{"w":1355,"i":9.5,"s":"Spark"},{"w":1365,"i":4.5,"s":"Spark"},{"w":1380,"i":6.0,"s":"Spark"},
   {"w":1400,"i":3.8,"s":"Spark"},{"w":1420,"i":6.5,"s":"Spark"},{"w":1440,"i":2.5,"s":"Spark"},{"w":1460,"i":5.0,"s":"Spark"},{"w":1480,"i":2.0,"s":"Spark"},
   {"w":1500,"i":4.8,"s":"Spark"},{"w":1520,"i":1.5,"s":"Spark"},{"w":1540,"i":5.5,"s":"Spark"},{"w":1560,"i":4.0,"s":"Spark"},{"w":1575,"i":6,"s":"Spark"},
   {"w":1585,"i":25,"s":"Spark"},{"w":1595,"i":55,"s":"Spark"},{"w":1600,"i":59,"s":"Spark"},{"w":1605,"i":40,"s":"Spark"},{"w":1611,"i":18,"s":"Spark"},
   {"w":1616,"i":38,"s":"Spark"},{"w":1622,"i":66,"s":"Spark"},{"w":1630,"i":73.3,"s":"Spark"},{"w":1636,"i":60,"s":"Spark"},{"w":1642,"i":30,"s":"Spark"},
   {"w":1650,"i":6,"s":"Spark"},{"w":1660,"i":4.0,"s":"Spark"},{"w":1680,"i":5.2,"s":"Spark"},{"w":1700,"i":4.6,"s":"Spark"},{"w":1750,"i":5.0,"s":"Spark"},
   {"w":1780,"i":4.8,"s":"Spark"},{"w":1800,"i":5.5,"s":"Spark"},{"w":1815,"i":10,"s":"Spark"},{"w":1825,"i":22,"s":"Spark"},{"w":1835,"i":26.3,"s":"Spark"},
   {"w":1845,"i":24,"s":"Spark"},{"w":1855,"i":14,"s":"Spark"},{"w":1865,"i":8,"s":"Spark"},{"w":1872,"i":16,"s":"Spark"},{"w":1882,"i":28,"s":"Spark"},
   {"w":1895,"i":31.4,"s":"Spark"},{"w":1905,"i":29,"s":"Spark"},{"w":1915,"i":16,"s":"Spark"},{"w":1928,"i":6,"s":"Spark"},{"w":1940,"i":4.8,"s":"Spark"},
   {"w":1980,"i":5.0,"s":"Spark"},{"w":2020,"i":4.6,"s":"Spark"},{"w":2060,"i":5.2,"s":"Spark"},{"w":2100,"i":4.8,"s":"Spark"},{"w":2140,"i":5.3,"s":"Spark"},
   {"w":2170,"i":6,"s":"Spark"},{"w":2185,"i":10,"s":"Spark"},{"w":2195,"i":20,"s":"Spark"},{"w":2200,"i":21.9,"s":"Spark"},{"w":2208,"i":16,"s":"Spark"},
   {"w":2216,"i":10.5,"s":"Spark"},{"w":2225,"i":22,"s":"Spark"},{"w":2235,"i":27.6,"s":"Spark"},{"w":2242,"i":25,"s":"Spark"},{"w":2252,"i":12,"s":"Spark"},
   {"w":2262,"i":5,"s":"Spark"},{"w":2280,"i":4.6,"s":"Spark"},{"w":2320,"i":5.0,"s":"Spark"},{"w":2340,"i":4.2,"s":"Spark"},{"w":2350,"i":0.5,"s":"Spark"},
   {"w":2355,"i":3.0,"s":"Spark"},{"w":2360,"i":6.5,"s":"Spark"},{"w":2370,"i":4.2,"s":"Spark"},{"w":2400,"i":4.8,"s":"Spark"},{"w":2450,"i":5.0,"s":"Spark"},
   {"w":2500,"i":4.7,"s":"Spark"},{"w":2550,"i":5.0,"s":"Spark"},{"w":2600,"i":4.6,"s":"Spark"},{"w":2650,"i":4.9,"s":"Spark"},{"w":2700,"i":4.6,"s":"Spark"},
   {"w":2750,"i":5.0,"s":"Spark"},{"w":2800,"i":4.7,"s":"Spark"}]},
   "mark": {"type": "line", "strokeWidth": 1.6},
   "encoding": {
    "color": {"field": "s", "type": "nominal", "scale": {"domain": ["DBD", "Spark"], "range": ["#1c1c84", "#ee9a35"]},
              "legend": {"title": null, "orient": "none", "legendX": 155, "legendY": 4, "symbolType": "M-2.3,0L2.3,0", "symbolSize": 100, "symbolStrokeWidth": 1.8, "labelFontSize": 14, "labelOffset": 8, "rowPadding": -1, "labelColor": "#111111"}}
   }},
  {"data": {"values": [
   {"w":1056,"i":45.3,"t":"O₃"},{"w":1342,"i":13.3,"t":"HNO₃"},{"w":1603,"i":76.7,"t":"NO₂"},{"w":1901,"i":35.2,"t":"NO"},
   {"w":2104,"i":13,"t":"O₃"},{"w":2261,"i":32.4,"t":"N₂O"}]},
   "mark": {"type": "text", "fontSize": 13.5, "color": "#111111", "baseline": "middle"},
   "encoding": {"text": {"field": "t"}}},
  {"data": {"values": [{"w":372.5,"i":91.4,"t":"(e)"}]},
   "mark": {"type": "text", "fontSize": 22, "color": "#111111", "align": "left", "baseline": "middle"},
   "encoding": {"text": {"field": "t"}}}
 ]
}
]
}
]
}
